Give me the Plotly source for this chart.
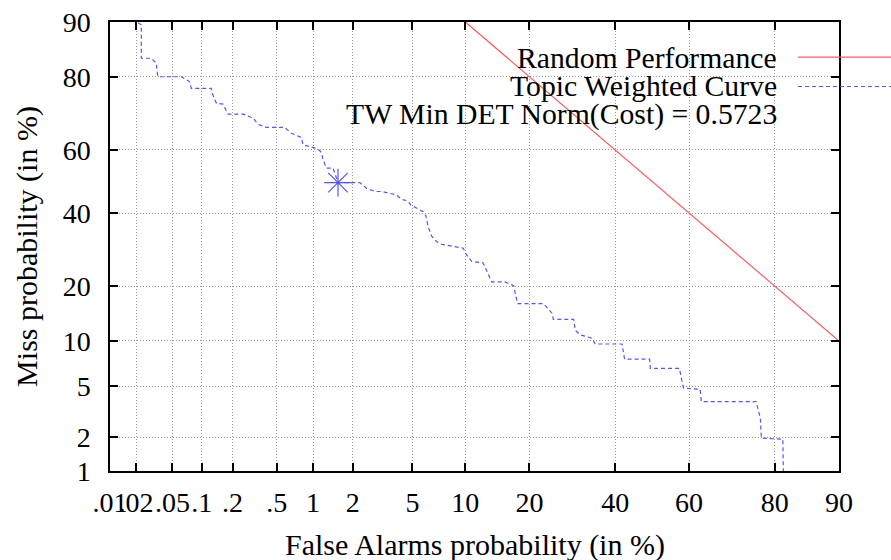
import plotly.graph_objects as go
from statistics import NormalDist

# ---------------- data (percent) ----------------
x_tick_pct = [0.01, 0.02, 0.05, 0.1, 0.2, 0.5, 1, 2, 5, 10, 20, 40, 60, 80, 90]
x_tick_text = [".01", ".02", ".05", ".1", ".2", ".5", "1", "2", "5", "10", "20", "40", "60", "80", "90"]
y_tick_pct = [1, 2, 5, 10, 20, 40, 60, 80, 90]
y_tick_text = ["1", "2", "5", "10", "20", "40", "60", "80", "90"]

rand_fa = [10, 90]
rand_miss = [90, 10]

tw_fa = [0.021, 0.0229, 0.0229, 0.0295, 0.0335, 0.0348, 0.0618, 0.0754, 0.0785, 0.1246,
         0.129, 0.140, 0.162, 0.177, 0.181, 0.250, 0.309, 0.343, 0.407, 0.585,
         0.666, 0.807, 0.832, 0.971, 1.094, 1.163, 1.196, 1.272, 1.429, 1.557,
         2.246, 2.50, 2.86, 3.17, 3.51, 3.97, 4.28, 4.70, 4.89, 5.18,
         5.81, 6.03, 6.22, 6.51, 6.96, 7.43, 9.75, 10.15, 10.8, 12.3,
         13.55, 15.6, 17.1, 17.8, 22.8, 24.6, 24.9, 29.5, 29.9, 31.05,
         33.95, 34.8, 41.8, 42.5, 49.3, 49.5, 57.4, 58.5, 62.9, 63.2,
         76.2, 77.1, 77.3, 81.5, 81.6]
tw_miss = [89.9, 89.6, 83.9, 83.9, 82.9, 80.0, 80.0, 78.9, 77.3, 77.3,
           75.7, 73.5, 73.3, 71.3, 70.6, 70.6, 69.5, 67.7, 66.8, 66.8,
           65.1, 63.8, 61.6, 60.9, 60.3, 59.2, 57.1, 54.3, 54.3, 49.65,
           49.65, 47.85, 46.8, 46.8, 46.25, 45.7, 44.3, 43.8, 42.5, 41.8,
           40.4, 39.1, 35.85, 33.1, 31.45, 30.7, 29.6, 27.75, 26.0, 25.7,
           21.0, 21.0, 20.1, 16.3, 16.3, 14.5, 13.4, 13.4, 11.6, 10.9,
           10.4, 9.58, 9.58, 7.67, 7.67, 6.66, 6.66, 4.84, 4.75, 3.85,
           3.85, 2.85, 1.96, 1.92, 0.9]

min_fa = [1.557]
min_miss = [49.65]

legend_labels = ["Random Performance", "Topic Weighted Curve", "TW Min DET Norm(Cost) = 0.5723"]

# ---------------- helpers ----------------
nd = NormalDist()


def probit(vals):
    return [nd.inv_cdf(v / 100.0) for v in vals]


FONT = "Liberation Serif, Times New Roman, Times, DejaVu Serif, serif"
RED = "rgb(250,90,90)"
BLUE = "rgb(85,85,255)"
BLUE_DOT = "4px,3px"

fig = go.Figure()

fig.add_trace(go.Scatter(x=probit(rand_fa), y=probit(rand_miss), mode="lines",
                         line=dict(color=RED, width=1.2), showlegend=False,
                         hoverinfo="skip"))
fig.add_trace(go.Scatter(x=probit(tw_fa), y=probit(tw_miss), mode="lines",
                         line=dict(color=BLUE, width=1.2, dash=BLUE_DOT), showlegend=False,
                         hoverinfo="skip"))
fig.add_trace(go.Scatter(x=probit(min_fa), y=probit(min_miss), mode="markers",
                         marker=dict(symbol="asterisk-open", size=23, color=BLUE,
                                     line=dict(color=BLUE, width=1.2)),
                         showlegend=False, hoverinfo="skip"))

# legend star sample on an invisible overlay axis
fig.add_trace(go.Scatter(x=[1.0088], y=[0.7895], xaxis="x2", yaxis="y2", mode="markers",
                         marker=dict(symbol="asterisk-open", size=23, color=BLUE,
                                     line=dict(color=BLUE, width=1.2)),
                         cliponaxis=False, showlegend=False, hoverinfo="skip"))

xr = probit([x_tick_pct[0], x_tick_pct[-1]])
yr = probit([y_tick_pct[0], y_tick_pct[-1]])

axis_common = dict(
    showline=True, linecolor="black", linewidth=1.5, mirror="ticks",
    ticks="inside", ticklen=8, tickwidth=1.5, tickcolor="black",
    showgrid=True, gridcolor="#9a9a9a", gridwidth=1, griddash="1px,2px",
    zeroline=False, automargin=False,
    tickfont=dict(family=FONT, size=28, color="black"),
)

fig.update_layout(
    template="none",
    width=891, height=560,
    margin=dict(l=110, r=52, t=22, b=89, autoexpand=False),
    paper_bgcolor="white", plot_bgcolor="white",
    showlegend=False,
    font=dict(family=FONT, color="black"),
    xaxis=dict(range=xr, tickvals=probit(x_tick_pct), ticktext=x_tick_text,
               tickangle=0, ticklabelstandoff=6, **axis_common),
    yaxis=dict(range=yr, tickvals=probit(y_tick_pct), ticktext=y_tick_text,
               ticklabelstandoff=12, **axis_common),
    xaxis2=dict(overlaying="x", range=[0, 1], visible=False, automargin=False),
    yaxis2=dict(overlaying="y", range=[0, 1], visible=False, automargin=False),
)

# opaque key box (between grid and traces)
fig.add_shape(type="rect", xref="paper", yref="paper", x0=0.182, x1=1.0, y0=0.753, y1=0.956,
              fillcolor="white", line=dict(width=0), layer="between")

# key samples
fig.add_shape(type="line", xref="paper", yref="paper", x0=0.9438, x1=1.075, y0=0.9219, y1=0.9219,
              line=dict(color=RED, width=1.2))
fig.add_shape(type="line", xref="paper", yref="paper", x0=0.9438, x1=1.075, y0=0.8564, y1=0.8564,
              line=dict(color=BLUE, width=1.2, dash=BLUE_DOT))

key_y = [0.9197, 0.8564, 0.7933]
for lab, yy in zip(legend_labels, key_y):
    fig.add_annotation(text=lab, xref="paper", yref="paper", x=0.9175, y=yy,
                       xanchor="right", yanchor="middle", showarrow=False,
                       font=dict(family=FONT, size=29.7, color="black"))

# axis titles
fig.add_annotation(text="False Alarms probability (in %)", xref="paper", yref="paper",
                   x=0.5, y=-0.1657, xanchor="center", yanchor="middle", showarrow=False,
                   font=dict(family=FONT, size=30, color="black"))
fig.add_annotation(text="Miss probability (in %)", xref="paper", yref="paper",
                   x=-0.1147, y=0.5, xanchor="center", yanchor="middle", textangle=-90,
                   showarrow=False, font=dict(family=FONT, size=30, color="black"))

fig.write_html("out.html", config={"displayModeBar": False},
               post_script="document.body.style.margin='0';")
